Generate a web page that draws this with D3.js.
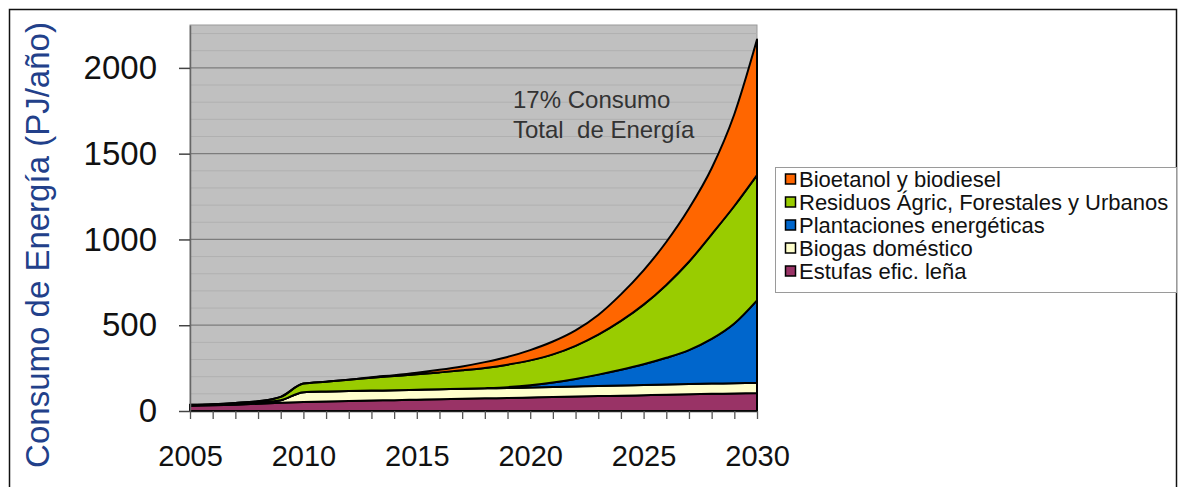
<!DOCTYPE html>
<html>
<head>
<meta charset="utf-8">
<script src="https://cdn.jsdelivr.net/npm/d3@7/dist/d3.min.js"></script>
<style>
  html, body { margin: 0; padding: 0; background: #ffffff; }
  svg { display: block; }
  text { font-family: "Liberation Sans", Arial, sans-serif; }
</style>
</head>
<body>
<svg id="chart" width="1186" height="487"></svg>
<script>
// ---- data ----
const years = d3.range(2005, 2031);
const seriesNames = ["Estufas efic. leña", "Biogas doméstico", "Plantaciones energéticas", "Residuos Ágric, Forestales y Urbanos", "Bioetanol y biodiesel"];
const estufas      = [30,33,37,42,48,53,56,58,61,63,66,69,71,74,76,79,82,84,87,89,92,95,97,100,102,105];
const biogas       = [3,4,5,7,15,57,58,58,58,58,58,58,58,58,58,58,58,59,59,59,60,60,60,60,60,60];
const plantaciones = [0,0,0,0,0,0,0,0,0,0,0,0,0,1,5,13,26,44,66,92,120,155,198,260,348,480];
const residuos     = [3,3,5,8,19,50,57,66,75,83,90,98,108,118,131,145,164,193,233,285,348,425,515,610,685,730];
const bioetanol    = [0,0,0,0,0,0,0,0,3,5,9,15,23,34,45,60,75,90,115,155,200,250,310,385,535,790];
const seriesColors = ["#993366", "#FFFFCC", "#0066CC", "#99CC00", "#FF6600"];
const yMajorTicks = [0, 500, 1000, 1500, 2000];
const yMinorTicks = d3.range(100, 2300, 100).filter(v => v % 500 !== 0);
const xLabelYears = [2005, 2010, 2015, 2020, 2025, 2030];
const yTitle = "Consumo de Energía (PJ/año)";
const noteLines = ["17% Consumo", "Total  de Energía"];

// ---- build table ----
const seriesValues = [estufas, biogas, plantaciones, residuos, bioetanol];
const table = years.map((yr, i) => {
  const row = { year: yr };
  seriesNames.forEach((n, k) => row[n] = seriesValues[k][i]);
  return row;
});

const svg = d3.select("#chart");

// outer frame
svg.append("rect").attr("x", 9.5).attr("y", 9.5).attr("width", 1167).attr("height", 500)
  .attr("fill", "none").attr("stroke", "#111").attr("stroke-width", 1.5);

const x = d3.scaleLinear().domain([2005, 2030]).range([190, 757]);
const y = d3.scaleLinear().domain([0, 2250]).range([411, 25]);

// plot background
svg.append("rect").attr("x", x(2005)).attr("y", y(2250))
  .attr("width", x(2030) - x(2005)).attr("height", y(0) - y(2250))
  .attr("fill", "#C0C0C0").attr("stroke", "#9a9a9a").attr("stroke-width", 1);

// minor gridlines
svg.append("g").selectAll("line").data(yMinorTicks).join("line")
  .attr("x1", x(2005)).attr("x2", x(2030))
  .attr("y1", d => y(d)).attr("y2", d => y(d))
  .attr("stroke", "#b0b0b0").attr("stroke-width", 1);
// major gridlines
svg.append("g").selectAll("line").data(yMajorTicks.filter(d => d > 0)).join("line")
  .attr("x1", x(2005)).attr("x2", x(2030))
  .attr("y1", d => y(d)).attr("y2", d => y(d))
  .attr("stroke", "#7c7c7c").attr("stroke-width", 1.3);

// stacked areas
const stack = d3.stack().keys(seriesNames);
const layers = stack(table);
const area = d3.area()
  .x(d => x(d.data.year))
  .y0(d => y(d[0]))
  .y1(d => y(d[1]))
  .curve(d3.curveMonotoneX);

svg.append("g").selectAll("path").data(layers).join("path")
  .attr("d", area)
  .attr("fill", (d, i) => seriesColors[i])
  .attr("stroke", "#000")
  .attr("stroke-width", 2)
  .attr("stroke-linejoin", "round");

// y axis
const yAxis = svg.append("g").attr("transform", `translate(${x(2005)},0)`)
  .call(d3.axisLeft(y).tickValues(yMajorTicks).tickFormat(d3.format("d"))
    .tickSize(11).tickPadding(22).tickSizeOuter(0));
yAxis.select(".domain").attr("stroke", "#666").attr("stroke-width", 1.5);
yAxis.selectAll(".tick line").attr("stroke", "#444").attr("stroke-width", 1.5);
yAxis.selectAll(".tick text").attr("font-size", 33).attr("fill", "#111")
  .attr("font-family", "Liberation Sans, Arial, sans-serif");

// x axis
const xAxis = svg.append("g").attr("transform", `translate(0,${y(0)})`)
  .call(d3.axisBottom(x).tickValues(years).tickSize(8).tickPadding(26).tickSizeOuter(0)
    .tickFormat(d => xLabelYears.includes(d) ? String(d) : ""));
xAxis.select(".domain").attr("stroke", "#222").attr("stroke-width", 1.5);
xAxis.selectAll(".tick line").attr("stroke", "#555").attr("stroke-width", 1.3);
xAxis.selectAll(".tick text").attr("font-size", 29).attr("fill", "#111")
  .attr("font-family", "Liberation Sans, Arial, sans-serif");

// y title
svg.append("text")
  .attr("transform", "translate(49,245) rotate(-90)")
  .attr("text-anchor", "middle")
  .attr("font-size", 33)
  .attr("fill", "#22408a")
  .text(yTitle);

// annotation
svg.append("g").selectAll("text").data(noteLines).join("text")
  .attr("x", 513).attr("y", (d, i) => 108 + i * 30)
  .attr("font-size", 24).attr("fill", "#333")
  .attr("xml:space", "preserve")
  .style("white-space", "pre")
  .text(d => d);

// legend
const legend = svg.append("g");
legend.append("rect").attr("x", 775.5).attr("y", 167.5).attr("width", 401).attr("height", 125)
  .attr("fill", "#fff").attr("stroke", "#9a9a9a").attr("stroke-width", 1);
const legendOrder = [4, 3, 2, 1, 0];
const items = legend.selectAll("g.item").data(legendOrder).join("g")
  .attr("class", "item")
  .attr("transform", (d, i) => `translate(785,${179 + i * 23})`);
items.append("rect").attr("x", 0.5).attr("y", -5).attr("width", 10).attr("height", 10)
  .attr("fill", d => seriesColors[d]).attr("stroke", "#000").attr("stroke-width", 1.5);
items.append("text").attr("x", 14).attr("y", 0).attr("dy", "0.35em")
  .attr("font-size", 22).attr("fill", "#111")
  .text(d => seriesNames[d]);
</script>
</body>
</html>
